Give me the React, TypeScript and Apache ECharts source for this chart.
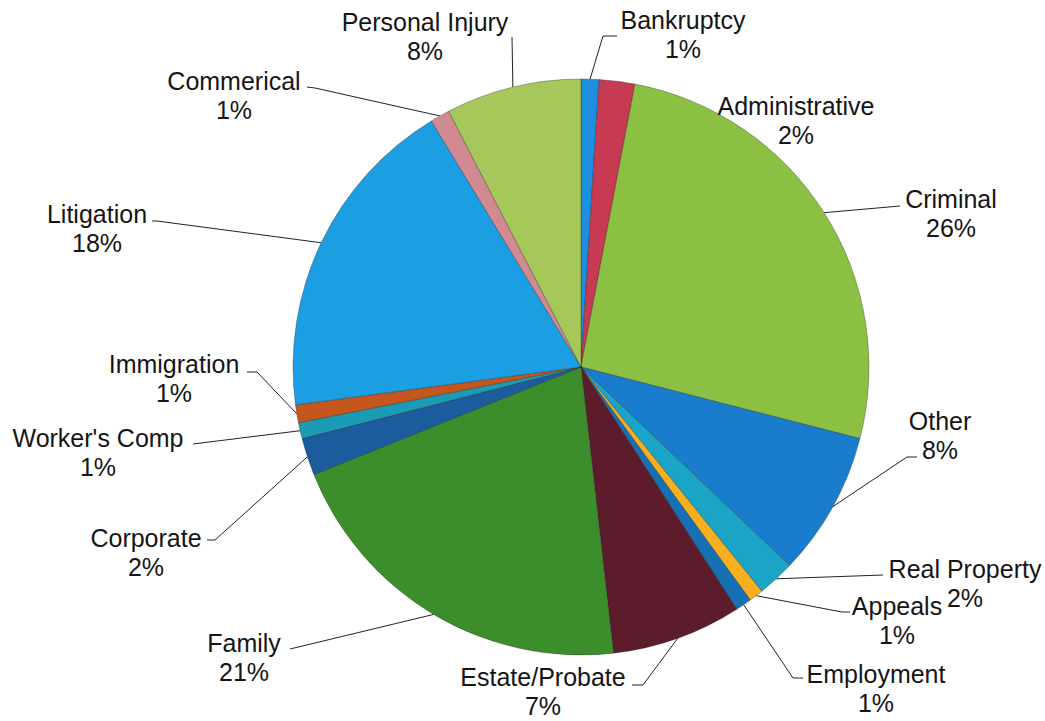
import React, { useEffect, useRef } from "react";
import * as echarts from "echarts";

const categories = [
  "Bankruptcy", "Administrative", "Criminal", "Other", "Real Property", "Appeals",
  "Employment", "Estate/Probate", "Family", "Corporate", "Worker's Comp",
  "Immigration", "Litigation", "Commerical", "Personal Injury",
];
const values = [1.0, 2.0, 26.0, 8.1, 2.1, 0.8, 0.9, 7.3, 20.7, 2.1, 0.9, 1.0, 18.4, 1.1, 7.6];
const colors = [
  "#1e8fe0", "#c63a52", "#8cc043", "#1a7ccc", "#1aa4c6", "#f8b020",
  "#1670b4", "#5c1c2c", "#3c8e2c", "#1a5c9c", "#1c9cb4",
  "#c4561e", "#1c9ee2", "#d28a92", "#a6c85a",
];
// label block centre (x, y), then elbow point and end point of leader line
const labelPlacement: number[][] = [
  [683, 34, 603, 36, 617, 36],
  [796, 120, 796, 120, 796, 120],
  [951, 213, 900, 206, 900, 206],
  [940, 435, 907, 457, 917, 457],
  [965, 583, 883, 575, 883, 575],
  [897, 620, 842, 612, 850, 612],
  [876, 688, 793, 678, 803, 678],
  [543, 691, 643, 685, 632, 685],
  [244, 657, 290, 649, 290, 649],
  [146, 552, 215, 540, 207, 540],
  [98, 452, 193, 444, 193, 444],
  [174, 378, 257, 372, 247, 372],
  [97, 228, 157, 221, 152, 221],
  [234, 95, 315, 88, 307, 87],
  [425, 36, 512, 37, 512, 37],
];

const CX = 581;
const CY = 367;
const R = 288;

export default function App() {
  const ref = useRef<HTMLDivElement>(null);
  useEffect(() => {
    document.body.style.margin = "0";
    const chart = echarts.init(ref.current!, null, { renderer: "svg" });
    const total = values.reduce((a, b) => a + b, 0);
    const cum: number[] = [];
    let acc = 0;
    values.forEach((v) => {
      cum.push(acc + v / 2);
      acc += v;
    });
    chart.setOption({
      animation: false,
      backgroundColor: "#ffffff",
      series: [
        {
          type: "pie",
          center: [CX, CY],
          radius: R,
          startAngle: 90,
          clockwise: true,
          avoidLabelOverlap: false,
          emphasis: { disabled: true },
          itemStyle: { borderColor: "rgba(30,30,30,0.55)", borderWidth: 0.6 },
          data: categories.map((n, i) => ({
            name: n,
            value: values[i],
            itemStyle: { color: colors[i] },
            labelLine: { show: i !== 1 },
          })),
          label: {
            show: true,
            position: "outside",
            formatter: (p: any) => p.name + "\n" + Math.round(p.percent) + "%",
            fontFamily: "'Liberation Sans', Arial, sans-serif",
            fontSize: 25,
            lineHeight: 29,
            color: "#151515",
            align: "center",
          },
          labelLine: { show: true, lineStyle: { color: "#222", width: 1 } },
          labelLayout: (params: any) => {
            const i = params.dataIndex;
            const L = labelPlacement[i];
            const ang = (90 - (cum[i] / total) * 360) * (Math.PI / 180);
            const sx = CX + R * Math.cos(ang);
            const sy = CY - R * Math.sin(ang);
            return {
              x: L[0],
              y: L[1],
              align: "center",
              verticalAlign: "middle",
              labelLinePoints: [
                [sx, sy],
                [L[2], L[3]],
                [L[4], L[5]],
              ],
            };
          },
        },
      ],
    });
    return () => chart.dispose();
  }, []);
  return <div ref={ref} style={{ width: 1045, height: 721 }} />;
}
